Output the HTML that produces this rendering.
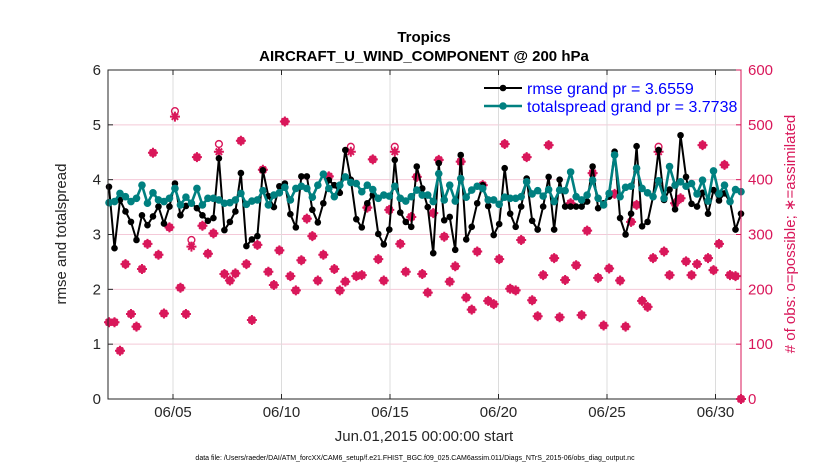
<!DOCTYPE html>
<html><head><meta charset="utf-8"><style>
body{margin:0;background:#fff;}
svg{font-family:"Liberation Sans",sans-serif;}
</style></head><body>
<svg id="chart" width="830" height="470" viewBox="0 0 830 470">
</svg>
<script>
const rmse=[3.87,2.75,3.63,3.42,3.23,2.90,3.35,3.17,3.33,3.51,3.20,3.51,3.93,3.35,3.52,3.57,3.48,3.35,3.25,3.30,
4.39,3.08,3.23,3.42,4.12,2.79,2.91,2.97,4.17,3.70,3.50,3.88,3.93,3.37,3.13,4.06,4.06,3.45,3.22,
3.57,3.99,3.90,3.76,4.54,4.00,3.28,3.13,3.57,3.72,3.01,2.82,3.09,4.36,3.40,3.23,3.14,4.24,3.84,
3.50,2.66,4.30,3.26,3.32,2.72,4.45,2.91,3.14,3.57,3.90,3.52,2.99,3.19,4.21,3.38,3.14,3.51,4.02,
3.25,3.09,3.51,4.05,3.09,4.00,3.51,3.51,3.51,3.51,3.60,4.24,3.48,3.57,3.69,4.51,3.30,3.00,3.38,
4.61,3.15,3.23,3.69,4.54,3.63,3.82,3.46,4.81,4.05,3.56,3.51,3.76,3.38,3.81,3.62,3.75,3.60,3.09,3.38];
const spread=[3.58,3.60,3.75,3.69,3.60,3.66,3.90,3.57,3.76,3.63,3.60,3.66,3.84,3.54,3.68,3.57,3.84,3.54,3.66,3.66,
3.63,3.57,3.58,3.63,3.75,3.55,3.61,3.63,3.80,3.54,3.72,3.76,3.86,3.63,3.84,3.88,3.84,3.68,3.90,
4.10,3.84,3.69,3.90,4.05,3.95,3.93,3.78,3.90,3.82,3.66,3.72,3.70,3.88,3.66,3.61,3.69,3.81,3.72,
3.72,3.60,4.11,3.63,3.90,3.61,4.02,3.68,3.81,3.88,3.84,3.63,3.63,3.55,3.68,3.66,3.66,3.69,3.96,
3.74,3.80,3.70,3.82,3.60,3.81,3.80,4.14,3.69,3.63,3.72,3.99,3.66,3.54,3.75,4.45,3.69,3.86,3.88,
4.21,3.84,3.76,3.69,3.98,3.66,4.24,3.90,3.96,3.88,3.93,3.74,3.99,3.61,4.16,3.74,3.90,3.60,3.82,3.78];
const nAssim=[140,140,88,246,155,132,237,283,449,263,156,313,515,203,155,278,441,316,265,302,
451,228,216,229,471,246,144,281,418,232,208,271,506,224,198,253,329,297,216,
263,406,237,198,214,451,224,226,349,437,255,216,345,451,283,232,332,405,228,
194,339,436,296,214,242,433,185,163,269,390,179,173,255,465,201,198,290,441,
180,151,226,463,257,149,217,357,244,153,307,412,221,134,238,374,216,132,323,
354,179,168,257,451,269,226,357,366,251,226,246,463,257,235,283,427,226,224,0];
const nPoss=[140,140,88,246,155,132,237,283,449,263,156,313,525,203,155,290,441,316,265,302,
465,228,216,229,471,246,144,281,418,232,208,271,506,224,198,253,329,297,216,
263,406,237,198,214,460,224,226,349,437,255,216,345,460,283,232,332,405,228,
194,339,436,296,214,242,433,185,163,269,390,179,173,255,465,201,198,290,441,
180,151,226,463,257,149,217,357,244,153,307,412,221,134,238,374,216,132,323,
354,179,168,257,460,269,226,357,366,251,226,246,463,257,235,283,427,226,224,0];
const xTickLabels=["06/05","06/10","06/15","06/20","06/25","06/30"];
const xTickDays=[4,9,14,19,24,29];
const yTicks=[0,1,2,3,4,5,6];
const y2Ticks=[0,100,200,300,400,500,600];

const NS="http://www.w3.org/2000/svg";
const svg=document.getElementById('chart');
const L=108,R=741,T=70,B=399;
const dayX=d=>86.2+21.7*d;
const idxX=i=>109+i*(R-109)/(rmse.length-1);
const yS=v=>B-(v/6)*(B-T);
const y2S=v=>B-(v/600)*(B-T);
const PINK="#d9175a";
function el(tag,attrs,parent){const e=document.createElementNS(NS,tag);for(const k in attrs)e.setAttribute(k,attrs[k]);(parent||svg).appendChild(e);return e;}

const grid=el('g',{});


y2Ticks.forEach(v=>{if(v>0&&v<600){const l=el('line',{x1:L,x2:R,y1:y2S(v),y2:y2S(v),stroke:'#f4c9d8','stroke-width':1},grid);

}});
xTickDays.forEach(d=>{const l=el('line',{x1:dayX(d),x2:dayX(d),y1:T,y2:B,stroke:'#dcdcdc','stroke-width':1},grid);

});

const obs=el('g',{});


nPoss.forEach((v,i)=>{const c=el('circle',{cx:idxX(i),cy:y2S(v),r:3.4,fill:'none',stroke:PINK,'stroke-width':1.4},obs);

});
nAssim.forEach((v,i)=>{const x=idxX(i),y=y2S(v),s=5,d=3.2;
const p=el('path',{d:`M${x-s},${y}H${x+s}M${x},${y-s}V${y+s}M${x-d},${y-d}L${x+d},${y+d}M${x-d},${y+d}L${x+d},${y-d}`,stroke:PINK,'stroke-width':2,fill:'none'},obs);

});

function series(vals,color,w,r,name){
 const g=el('g',{});
 
 
 const pl=el('polyline',{points:vals.map((v,i)=>idxX(i)+','+yS(v)).join(' '),fill:'none',stroke:color,'stroke-width':w,'stroke-linejoin':'round'},g);
 
 
 vals.forEach((v,i)=>{const c=el('circle',{cx:idxX(i),cy:yS(v),r:r,fill:color},g);
 
 });
}
series(rmse,'#000',2,3.3,'rmse-series');
series(spread,'#008080',2.6,3.8,'totalspread-series');

const ax=el('rect',{x:L,y:T,width:R-L,height:B-T,fill:'none',stroke:'#262626','stroke-width':1});


el('line',{x1:R,x2:R,y1:T,y2:B,stroke:PINK,'stroke-width':1});

yTicks.forEach(v=>{el('line',{x1:L,x2:L+5,y1:yS(v),y2:yS(v),stroke:'#262626'});
const t=el('text',{x:L-7,y:yS(v)+5,'text-anchor':'end','font-size':15,fill:'#262626'});t.textContent=v;

});
y2Ticks.forEach(v=>{el('line',{x1:R-5,x2:R,y1:y2S(v),y2:y2S(v),stroke:PINK});
const t=el('text',{x:R+7,y:y2S(v)+5,'font-size':15,fill:PINK});t.textContent=v;

});
xTickDays.forEach((d,i)=>{el('line',{x1:dayX(d),x2:dayX(d),y1:B,y2:B-5,stroke:'#262626'});el('line',{x1:dayX(d),x2:dayX(d),y1:T,y2:T+5,stroke:'#262626'});
const t=el('text',{x:dayX(d),y:417,'text-anchor':'middle','font-size':15,fill:'#262626'});t.textContent=xTickLabels[i];

});

function txt(s,attrs,name){const t=el('text',attrs);t.textContent=s;

return t;}
txt('Tropics',{x:424,y:42,'text-anchor':'middle','font-size':15,'font-weight':'bold',fill:'#000'},'chart-title');
txt('AIRCRAFT_U_WIND_COMPONENT @ 200 hPa',{x:424,y:61,'text-anchor':'middle','font-size':15,'font-weight':'bold',fill:'#000'},'chart-subtitle');
txt('Jun.01,2015 00:00:00 start',{x:424,y:441,'text-anchor':'middle','font-size':15,fill:'#262626'},'x-axis-title');
txt('rmse and totalspread',{x:0,y:0,transform:'translate(66,234) rotate(-90)','text-anchor':'middle','font-size':15,fill:'#262626'},'y-axis-title');
txt('# of obs: o=possible; \u2217=assimilated',{x:0,y:0,transform:'translate(795,234) rotate(-90)','text-anchor':'middle','font-size':15,fill:PINK},'y2-axis-title');
txt('data file: /Users/raeder/DAI/ATM_forcXX/CAM6_setup/f.e21.FHIST_BGC.f09_025.CAM6assim.011/Diags_NTrS_2015-06/obs_diag_output.nc',{x:415,y:460,'text-anchor':'middle','font-size':7,fill:'#000'},'data-file-note');

const lg=el('g',{});


el('line',{x1:484,x2:522,y1:88,y2:88,stroke:'#000','stroke-width':2},lg);
el('circle',{cx:503,cy:88,r:3.3,fill:'#000'},lg);
el('line',{x1:484,x2:522,y1:106,y2:106,stroke:'#008080','stroke-width':2.6},lg);
el('circle',{cx:503,cy:106,r:3.8,fill:'#008080'},lg);
const t1=el('text',{x:527,y:94,'font-size':16,fill:'#0000ff'},lg);t1.textContent='rmse grand pr = 3.6559';


const t2=el('text',{x:527,y:112,'font-size':16,fill:'#0000ff'},lg);t2.textContent='totalspread grand pr = 3.7738';


</script>
</body></html>
